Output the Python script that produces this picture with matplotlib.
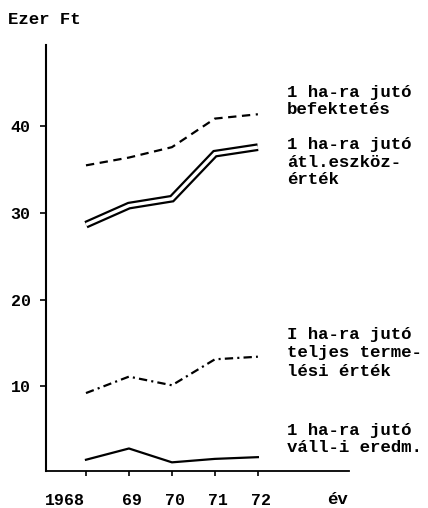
import matplotlib
matplotlib.use("Agg")
import matplotlib.pyplot as plt
import matplotlib.transforms as mtransforms

years = [1968, 1969, 1970, 1971, 1972]
befektetes = [35.5, 36.4, 37.6, 40.9, 41.4]
eszkozertek = [28.65, 30.85, 31.65, 36.85, 37.6]
termelesi = [9.2, 11.1, 10.1, 13.1, 13.4]
eredmeny = [1.5, 2.8, 1.2, 1.6, 1.8]

xtick_labels = ["1968", "69", "70", "71", "72"]
yticks = [10, 20, 30, 40]
ytick_labels = ["10", "20", "30", "40"]

label_befektetes = ["1 ha-ra jutó", "befektetés"]
label_eszkoz = ["1 ha-ra jutó", "átl.eszköz-", "érték"]
label_termelesi = ["I ha-ra jutó", "teljes terme-", "lési érték"]
label_eredmeny = ["1 ha-ra jutó", "váll-i eredm."]

plt.rcParams['lines.scale_dashes'] = False
FONT = "Liberation Mono"

W, H = 428, 508
fig = plt.figure(figsize=(W / 100, H / 100), dpi=100)
ax = fig.add_axes([46 / W, 1 - 471 / H, (349 - 46) / W, (471 - 45) / H])

ax.plot(years, befektetes, color="black", lw=1.6, linestyle=(0, (6, 4)))
ax.plot(years, eszkozertek, color="black", lw=5.6, solid_joinstyle="miter",
        solid_capstyle="butt")
ax.plot(years, eszkozertek, color="white", lw=2.4, solid_joinstyle="miter",
        solid_capstyle="butt")
ax.plot(years, termelesi, color="black", lw=1.6, linestyle=(0, (6, 3, 1.5, 3)))
ax.plot(years, eredmeny, color="black", lw=1.6)

ax.set_xlim(1967.07, 1974.12)
ax.set_ylim(0.2, 49.4)

for s in ["top", "right"]:
    ax.spines[s].set_visible(False)
ax.spines["left"].set_linewidth(1.5)
ax.spines["bottom"].set_linewidth(1.3)

ax.set_xticks(years)
ax.set_xticklabels(xtick_labels, fontfamily=FONT, fontweight="bold", fontsize=12)
ax.set_yticks(yticks)
ax.set_yticklabels(ytick_labels, fontfamily=FONT, fontweight="bold", fontsize=12)
ax.tick_params(axis="x", direction="out", length=3.5, width=1.2, pad=12)
ax.tick_params(axis="y", direction="out", length=4, width=1.2, pad=7)

lbls = ax.get_xticklabels()
lbls[0].set_horizontalalignment("right")
off = mtransforms.ScaledTranslation(-1 / 72, 0, fig.dpi_scale_trans)
lbls[0].set_transform(lbls[0].get_transform() + off)
off2 = mtransforms.ScaledTranslation(2 / 72, 0, fig.dpi_scale_trans)
for l in lbls[1:]:
    l.set_transform(l.get_transform() + off2)

def px_text(x, y, s, **kw):
    fig.text(x / W, 1 - y / H, s, fontfamily=FONT, fontweight="bold",
             fontsize=12.5, va="center", ha="left", **kw)

def block(lines, x, y0, dy=17.5):
    for i, s in enumerate(lines):
        px_text(x, y0 + i * dy, s)

block(label_befektetes, 287, 92)
block(label_eszkoz, 287, 145)
block(label_termelesi, 287, 334, dy=18.5)
block(label_eredmeny, 287, 430, dy=17)

px_text(8, 19, "Ezer Ft")
fig.text(337 / W, 1 - 500 / H, "év", fontfamily=FONT, fontweight="bold",
         fontsize=12.5, va="center", ha="center")

fig.savefig("out.png", dpi=100)
